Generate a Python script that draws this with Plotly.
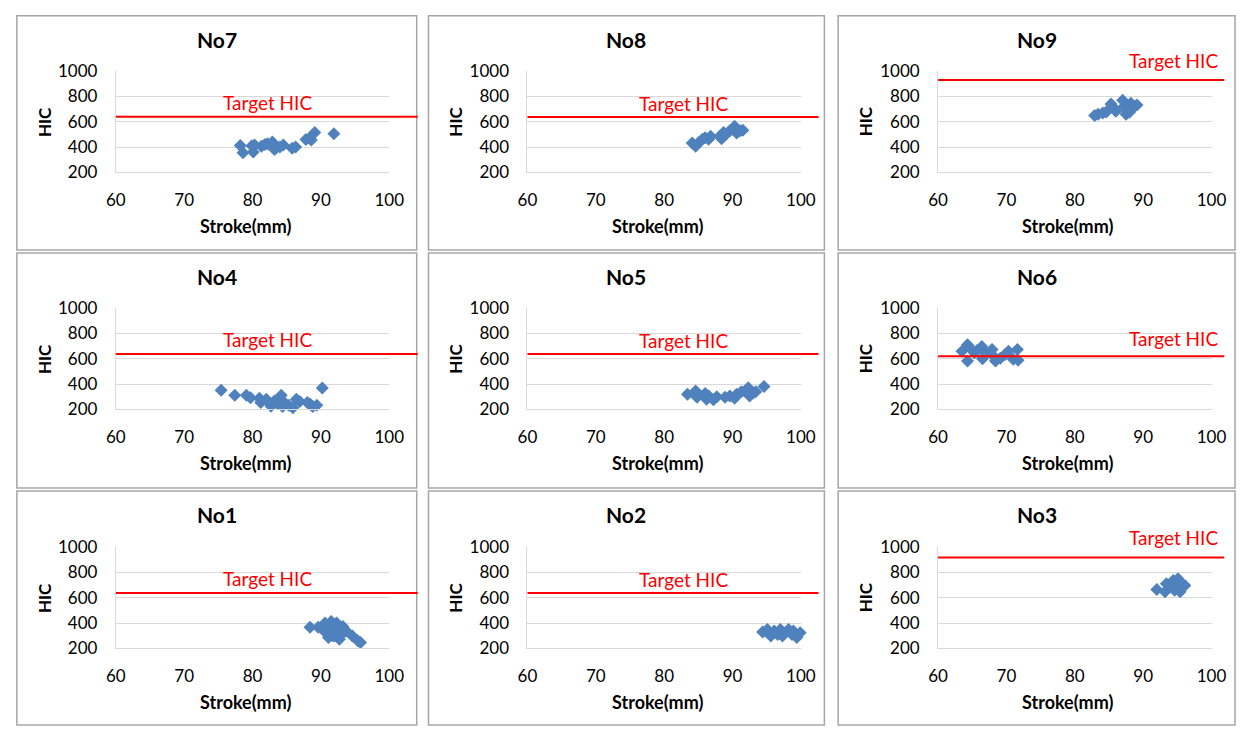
import plotly.graph_objects as go

# ---------------- data ----------------
panel_names = ["No7", "No8", "No9", "No4", "No5", "No6", "No1", "No2", "No3"]
target_hic = [640, 638, 930, 638, 638, 620, 638, 638, 918]

no7_stroke = [78.2, 78.6, 79.9, 80.1, 80.3, 81.3, 81.8, 82.2, 82.9, 83.0, 83.2, 83.5, 84.0, 84.5, 85.8, 86.3, 87.8, 88.3, 88.6, 89.1, 91.9]
no7_hic = [412, 355, 410, 360, 415, 405, 420, 425, 440, 410, 380, 395, 400, 415, 390, 400, 460, 470, 455, 515, 505]

no8_stroke = [84.1, 84.6, 85.1, 85.6, 86.0, 86.5, 86.8, 88.2, 88.4, 88.7, 89.1, 89.6, 90.1, 90.3, 90.6, 91.1, 91.5]
no8_hic = [431, 405, 438, 462, 474, 462, 485, 490, 466, 515, 503, 528, 541, 565, 510, 528, 533]

no9_stroke = [82.9, 83.4, 84.1, 84.6, 85.3, 85.7, 86.0, 87.0, 87.2, 87.5, 87.7, 88.0, 88.2, 88.7, 89.1]
no9_hic = [650, 660, 670, 678, 741, 708, 683, 771, 721, 660, 708, 675, 746, 721, 733]

no4_stroke = [75.4, 77.4, 79.1, 79.7, 81.0, 81.2, 82.0, 82.5, 82.7, 83.2, 83.7, 84.2, 84.4, 84.8, 85.3, 85.9, 86.4, 86.9, 88.0, 88.4, 88.8, 89.4, 90.2]
no4_hic = [351, 312, 312, 292, 287, 254, 279, 246, 225, 266, 241, 312, 223, 246, 233, 212, 279, 261, 254, 241, 223, 233, 369]

no5_stroke = [83.4, 84.6, 84.8, 86.0, 86.2, 86.5, 87.2, 87.7, 88.9, 89.6, 90.3, 90.6, 91.3, 92.0, 92.3, 92.5, 93.0, 93.4, 94.6]
no5_hic = [320, 345, 295, 325, 280, 305, 275, 300, 295, 305, 288, 320, 338, 350, 370, 305, 330, 338, 380]

no6_stroke = [63.5, 64.3, 64.3, 64.8, 65.3, 65.7, 66.4, 66.5, 67.0, 67.9, 68.1, 68.4, 69.1, 69.8, 70.3, 71.0, 71.6, 71.7]
no6_hic = [660, 711, 583, 680, 647, 665, 698, 601, 647, 673, 622, 583, 604, 634, 660, 596, 673, 589]

no1_stroke = [88.4, 89.6, 90.4, 90.6, 90.8, 91.1, 91.3, 91.5, 91.7, 91.8, 92.0, 92.1, 92.3, 92.5, 92.6, 92.7, 93.0, 93.2, 93.7, 94.6, 95.4, 95.8]
no1_hic = [367, 367, 340, 400, 336, 285, 380, 413, 300, 349, 298, 390, 400, 336, 360, 272, 310, 373, 336, 298, 259, 246]

no2_stroke = [94.4, 95.1, 95.6, 96.1, 96.6, 97.0, 97.3, 97.7, 98.2, 98.7, 98.9, 99.4, 99.9]
no2_hic = [329, 349, 298, 336, 310, 349, 298, 323, 349, 310, 336, 285, 323]

no3_stroke = [92.0, 93.2, 93.4, 93.9, 94.4, 94.6, 94.9, 95.1, 95.4, 95.6, 96.1]
no3_hic = [665, 647, 711, 686, 737, 660, 711, 750, 647, 711, 698]

x_ticks = [60, 70, 80, 90, 100]
y_ticks = [200, 400, 600, 800, 1000]
x_title = "Stroke(mm)"
y_title = "HIC"
target_label = "Target HIC"

strokes = [no7_stroke, no8_stroke, no9_stroke, no4_stroke, no5_stroke, no6_stroke, no1_stroke, no2_stroke, no3_stroke]
hics = [no7_hic, no8_hic, no9_hic, no4_hic, no5_hic, no6_hic, no1_hic, no2_hic, no3_hic]

# ---------------- layout geometry (pixels) ----------------
W, H = 1252, 736
col_plot = [(108, 387), (528, 807), (947, 1226)]
row_plot = [(62, 166), (306, 410), (552, 656)]
col_box = [(7, 415), (427, 831), (845, 1250)]
row_box = [(5, 246), (249, 491), (494, 735)]
red_end = [416, 825, 1239]
label_x = [263, 687, 1187]
label_shift = [14, 13, 20, 14, 13, 18, 14, 13, 20]

def px(x):
    return x / W

def py(y):
    return 1 - y / H

FONT = "Lato, Carlito, Calibri, 'Open Sans', sans-serif"
BLUE = "#4F81BD"
RED = "#FF0000"
GRID = "#D9D9D9"

fig = go.Figure()
shapes = []
annotations = []

for i in range(9):
    r, c = divmod(i, 3)
    n = i + 1
    xa = "xaxis" if n == 1 else f"xaxis{n}"
    ya = "yaxis" if n == 1 else f"yaxis{n}"
    xr = "x" if n == 1 else f"x{n}"
    yr = "y" if n == 1 else f"y{n}"
    x0, x1 = col_plot[c]
    y0, y1 = row_plot[r]

    fig.add_trace(go.Scatter(
        x=strokes[i], y=hics[i], mode="markers", xaxis=xr, yaxis=yr,
        marker=dict(symbol="diamond", size=10, color=BLUE, line=dict(width=0)),
        cliponaxis=False, showlegend=False, hoverinfo="x+y"))

    fig.layout[xa] = dict(
        domain=[px(x0), px(x1)], anchor=yr, range=[60, 100],
        tickvals=x_ticks, ticktext=[str(v) for v in x_ticks],
        showgrid=False, zeroline=False, showline=True, linecolor=GRID, linewidth=1,
        ticks="outside", ticklen=12, tickcolor="rgba(0,0,0,0)",
        tickfont=dict(family=FONT, size=17, color="#000000"), fixedrange=True)
    fig.layout[ya] = dict(
        domain=[py(y1), py(y0)], anchor=xr, range=[200, 1000],
        tickvals=y_ticks, ticktext=[str(v) for v in y_ticks],
        showgrid=True, gridcolor=GRID, gridwidth=1, zeroline=False,
        showline=True, linecolor=GRID, linewidth=1,
        ticks="outside", ticklen=14, tickcolor="rgba(0,0,0,0)",
        tickfont=dict(family=FONT, size=17, color="#000000"), fixedrange=True)

    # panel border
    bx0, bx1 = col_box[c]
    by0, by1 = row_box[r]
    shapes.append(dict(type="rect", xref="paper", yref="paper",
                       x0=px(bx0), x1=px(bx1), y0=py(by1), y1=py(by0),
                       line=dict(color="#A6A6A6", width=1.5), layer="below"))
    # target line
    shapes.append(dict(type="line", xref="paper", yref=yr,
                       x0=px(x0), x1=px(red_end[c]), y0=target_hic[i], y1=target_hic[i],
                       line=dict(color=RED, width=2)))
    annotations.append(dict(xref="paper", yref=yr, x=px(label_x[c]), y=target_hic[i],
                            text=target_label, showarrow=False, xanchor="center", yanchor="middle",
                            yshift=label_shift[i], font=dict(family=FONT, size=19, color=RED)))
    # title
    annotations.append(dict(xref="paper", yref="paper", x=px((bx0 + bx1) / 2), y=py(by0 + 24),
                            text=f"<b>{panel_names[i]}</b>", showarrow=False,
                            xanchor="center", yanchor="middle",
                            font=dict(family=FONT, size=21, color="#000000")))
    # axis titles
    annotations.append(dict(xref="paper", yref="paper", x=px(bx0 + 28), y=py((y0 + y1) / 2),
                            text=f"<b>{y_title}</b>", showarrow=False, textangle=-90,
                            xanchor="center", yanchor="middle",
                            font=dict(family=FONT, size=17, color="#000000")))
    annotations.append(dict(xref="paper", yref="paper", x=px((x0 + x1) / 2 - 7), y=py(y1 + 55),
                            text=f"<b>{x_title}</b>", showarrow=False,
                            xanchor="center", yanchor="middle",
                            font=dict(family=FONT, size=18, color="#000000")))

fig.update_layout(width=W, height=H, margin=dict(l=0, r=0, t=0, b=0),
                  paper_bgcolor="white", plot_bgcolor="white",
                  shapes=shapes, annotations=annotations, showlegend=False)

fig.write_html("out.html", config={"displayModeBar": False},
               post_script=("var d=document.documentElement,b=document.body;"
                            "d.style.margin='0';d.style.padding='0';d.style.overflow='hidden';"
                            "b.style.margin='0';b.style.padding='0';b.style.overflow='hidden';"))
